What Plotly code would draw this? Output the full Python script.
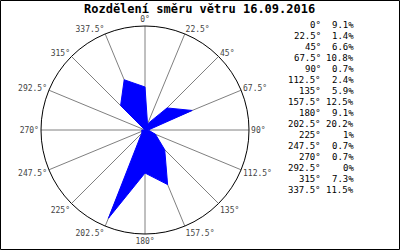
import plotly.graph_objects as go

directions = [0, 22.5, 45, 67.5, 90, 112.5, 135, 157.5, 180, 202.5, 225, 247.5, 270, 292.5, 315, 337.5]
percent = [9.1, 1.4, 6.6, 10.8, 0.7, 2.4, 5.9, 12.5, 9.1, 20.2, 1, 0.7, 0.7, 0, 7.3, 11.5]
tick_labels = [f"{d:g}°" for d in directions]
title_text = "Rozdělení směru větru 16.09.2016"

W, H = 400, 250

fig = go.Figure()
fig.add_trace(go.Scatterpolar(
    r=percent + [percent[0]],
    theta=directions + [directions[0]],
    mode="lines",
    fill="toself",
    fillcolor="#0000ff",
    line=dict(color="#0000ff", width=1),
    hoverinfo="skip",
))

fig.update_layout(
    width=W, height=H,
    margin=dict(l=0, r=0, t=0, b=0),
    paper_bgcolor="white",
    plot_bgcolor="white",
    showlegend=False,
    polar=dict(
        domain=dict(x=[41 / W, 249 / W], y=[16 / H, 224 / H]),
        bgcolor="white",
        radialaxis=dict(visible=False, range=[0, 22], showgrid=False),
        angularaxis=dict(
            rotation=90,
            direction="clockwise",
            tickmode="array",
            tickvals=directions,
            ticktext=tick_labels,
            showgrid=True,
            gridcolor="#808080",
            gridwidth=1,
            showline=True,
            linecolor="black",
            linewidth=1,
            ticks="",
            tickfont=dict(family="DejaVu Sans Mono", size=8, color="#444444"),
        ),
    ),
)

annotations = [dict(
    x=199.5 / W, y=1 - 9 / H, xref="paper", yref="paper",
    text=f"<b>{title_text}</b>", showarrow=False,
    font=dict(family="DejaVu Sans Mono", size=12, color="black"),
    xanchor="center", yanchor="middle",
)]
for i, (lab, p) in enumerate(zip(tick_labels, percent)):
    y = 1 - (25 + 11 * i) / H
    annotations.append(dict(
        x=323 / W, y=y, xref="paper", yref="paper", text=lab, showarrow=False,
        xanchor="right", yanchor="middle",
        font=dict(family="DejaVu Sans Mono", size=9, color="black"),
    ))
    annotations.append(dict(
        x=356 / W, y=y, xref="paper", yref="paper", text=f"{p:g}%", showarrow=False,
        xanchor="right", yanchor="middle",
        font=dict(family="DejaVu Sans Mono", size=9, color="black"),
    ))
fig.update_layout(annotations=annotations)

fig.add_shape(type="rect", xref="paper", yref="paper",
              x0=0.5 / W, x1=1 - 0.5 / W, y0=0.5 / H, y1=1 - 0.5 / H,
              line=dict(color="black", width=1), fillcolor="rgba(0,0,0,0)")

fig.write_html("out.html")
